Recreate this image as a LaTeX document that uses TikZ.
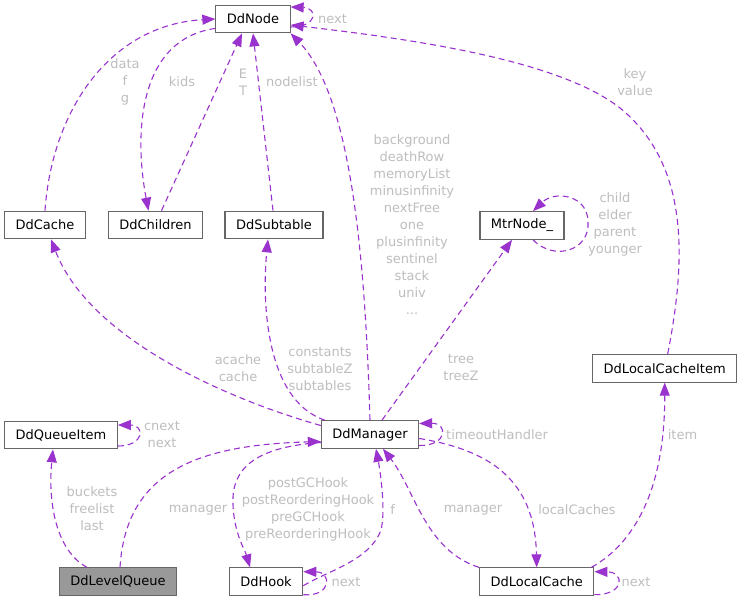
\documentclass[tikz,border=0pt]{standalone}
\usepackage{fontspec}
\setmainfont{DejaVu Sans}
\usetikzlibrary{arrows.meta}

\definecolor{edgepurple}{HTML}{9A32CD}
\definecolor{boxgray}{HTML}{666666}
\definecolor{lblgray}{HTML}{BEBEBE}
\definecolor{focusfill}{HTML}{999999}

\begin{document}
\begin{tikzpicture}[x=1pt, y=-1pt,
    cls/.style={draw=boxgray, fill=white, line width=1.1pt, rectangle, inner xsep=11pt,
        minimum height=27.6pt, font=\fontsize{13}{17}\selectfont},
    lbl/.style={text=lblgray, inner sep=0pt, align=center, font=\fontsize{13}{17}\selectfont},
    rel/.style={draw=edgepurple, line width=1.1pt, dash pattern=on 6pt off 4pt,
        -{Triangle[length=13pt, width=10pt]}}]

     \path[fill=white, use as bounding box] (0,0) rectangle (742,601);

     % Classes
     \node[cls] (ddnode) at (253,19) {DdNode};
     \node[cls] (cache) at (45,225) {DdCache};
     \node[cls] (children) at (155.5,225) {DdChildren};
     \node[cls] (subtable) at (274,225) {DdSubtable};
     \node[cls] (mtr) at (522,225.5) {MtrNode\_};
     \node[cls] (lcitem) at (664.7,368.3) {DdLocalCacheItem};
     \node[cls] (qitem) at (61,435) {DdQueueItem};
     \node[cls] (manager) at (370,434.5) {DdManager};
     \node[cls, fill=focusfill] (lqueue) at (118,581.7) {DdLevelQueue};
     \node[cls] (hook) at (266,581.7) {DdHook};
     \node[cls] (lcache) at (536.7,581.7) {DdLocalCache};

     % Edges into DdNode
     \draw[rel] (cache.north) .. controls (52,110) and (110,25) .. (ddnode.west);
     \node[lbl] (lblcache) at (125,82) {data\\f\\g};
     \draw[rel] (ddnode.194) .. controls (135,40) and (135,140) .. ([xshift=-7pt]children.north);
     \node[lbl] (lblkids) at (182,82) {kids};
     \draw[rel] ([xshift=6pt]children.north) -- ([xshift=-11pt]ddnode.south);
     \node[lbl] (lblchildren) at (243,82) {E\\T};
     \draw[rel] ([xshift=-1pt]subtable.north) -- (ddnode.south);
     \node[lbl] (lblsubtable) at (292,82) {nodelist};
     \draw[rel] (manager.north) .. controls (365,250) and (350,95) .. (ddnode.south east);
     \node[lbl] (lblmanager) at (412,225) {background\\deathRow\\memoryList\\minusinfinity\\nextFree\\one\\plusinfinity\\sentinel\\stack\\univ\\...};
     \draw[rel] ([yshift=-8pt]ddnode.east) .. controls (318,27) and (318,8) .. ([yshift=12pt]ddnode.east);
     \node[lbl, anchor=west] (lblnodenext) at (318,19) {next};
     \draw[rel] ([xshift=3pt]lcitem.north) .. controls (686,260) and (690,165) .. (620,108)
        .. controls (560,61) and (420,40) .. ([yshift=-6pt]ddnode.east);
     \node[lbl] (lblkey) at (635,82) {key\\value};

     % Edges out of DdManager
     \draw[rel] ([yshift=9pt]manager.west) .. controls (230,400) and (90,340) .. ([xshift=6pt]cache.south);
     \node[lbl] (lblacache) at (238,368) {acache\\cache};
     \draw[rel] ([xshift=4pt]manager.north west) .. controls (265,400) and (262,300) .. ([xshift=-6pt]subtable.south);
     \node[lbl] (lblconst) at (320,369) {constants\\subtableZ\\subtables};
     \draw[rel] ([xshift=12pt]manager.north) -- ([xshift=-10pt]mtr.south);
     \node[lbl] (lbltree) at (461,368) {tree\\treeZ};
     \draw[rel] ([yshift=-11pt]manager.east) .. controls (448,446) and (448,423) .. ([yshift=11pt]manager.east);
     \node[lbl, anchor=west] (lbltimeout) at (446,435) {timeoutHandler};
     \draw[rel] ([yshift=-4pt]manager.east) .. controls (490,450) and (535,480) .. (lcache.north);
     \node[lbl] (lbllocal) at (577,510) {localCaches};
     \draw[rel] ([yshift=-8pt]manager.west) .. controls (270,446) and (235,460) .. (233,497)
        .. controls (232,530) and (245,550) .. ([xshift=-16pt]hook.north);
     \node[lbl] (lblhooks) at (308,509.5) {postGCHook\\postReorderingHook\\preGCHook\\preReorderingHook};

     % MtrNode_ loop
     \draw[rel] ([xshift=11pt]mtr.south) .. controls (555,262) and (590,250) .. (588,222)
        .. controls (588,195) and (555,190) .. ([xshift=11pt]mtr.north);
     \node[lbl] (lblmtr) at (615,224.5) {child\\elder\\parent\\younger};

     % DdLocalCache
     \draw[rel] (lcache.north west) .. controls (425,550) and (415,490) .. ([xshift=13pt]manager.south);
     \node[lbl] (lblcachemgr) at (473,510) {manager};
     \draw[rel] ([xshift=-3pt]lcache.north east) .. controls (640,540) and (665,480) .. (lcitem.south);
     \node[lbl] (lblitem) at (682.5,435) {item};
     \draw[rel] ([yshift=-13pt]lcache.east) .. controls (625,595) and (625,572) .. ([yshift=10pt]lcache.east);
     \node[lbl] (lblcachenext) at (636,581.7) {next};

     % DdLevelQueue and DdQueueItem
     \draw[rel] ([xshift=-31pt]lqueue.north) .. controls (55,550) and (48,500) .. ([xshift=-8pt]qitem.south);
     \node[lbl] (lblbuckets) at (92,509) {buckets\\freelist\\last};
     \draw[rel] ([yshift=-11pt]qitem.east) .. controls (145,446) and (145,425) .. ([yshift=10pt]qitem.east);
     \node[lbl] (lblqnext) at (162,435) {cnext\\next};
     \draw[rel] ([xshift=2pt]lqueue.north) .. controls (126,470) and (200,445) .. ([yshift=-7pt]manager.west);
     \node[lbl] (lblqmgr) at (198,510) {manager};

     % DdHook
     \draw[rel] ([yshift=-4pt]hook.east) .. controls (330,570) and (370,560) .. (381,530)
        .. controls (386,510) and (380,470) .. ([xshift=6pt]manager.south);
     \node[lbl] (lblf) at (392.7,510) {f};
     \draw[rel] ([yshift=-13pt]hook.east) .. controls (332,597) and (332,572) .. ([yshift=10pt]hook.east);
     \node[lbl] (lblhooknext) at (346,581.7) {next};

\end{tikzpicture}
\end{document}
